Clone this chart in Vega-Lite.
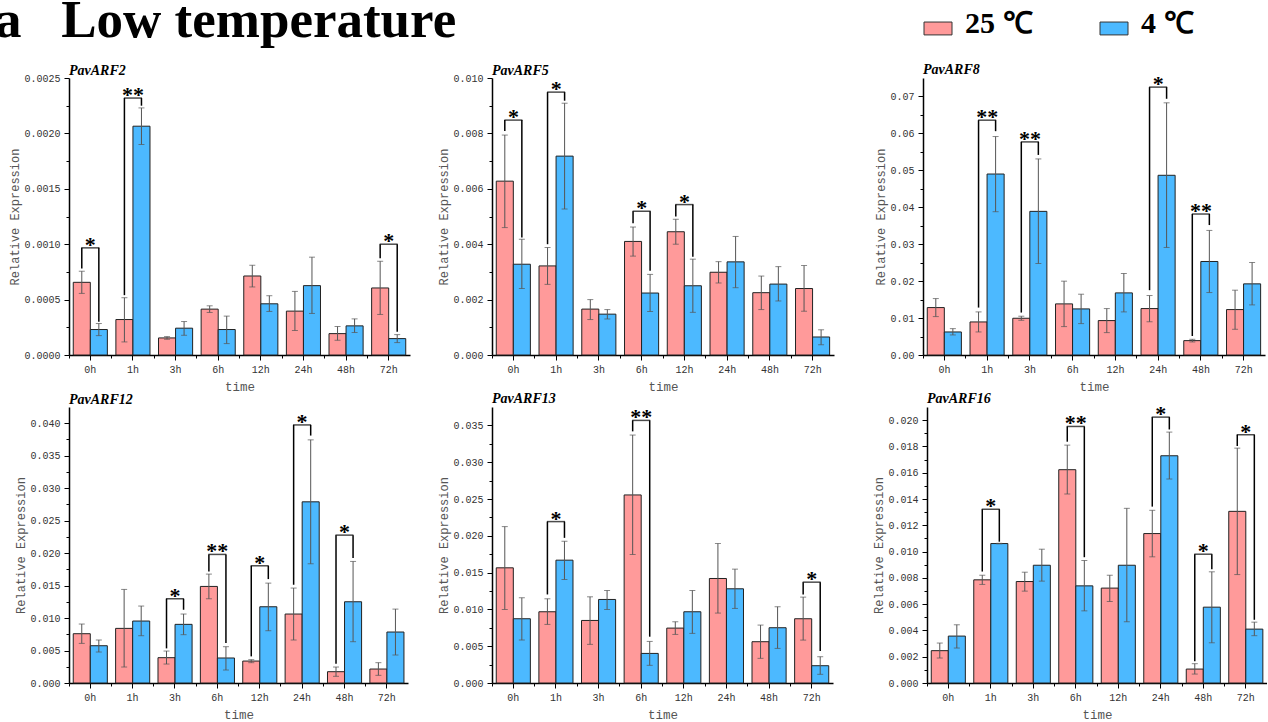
{
"$schema":"https://vega.github.io/schema/vega-lite/v6.json",
"padding":{"left":-6,"top":-5,"right":0,"bottom":0},
"title":{"text":"a\u00a0\u00a0\u00a0Low temperature","anchor":"start","frame":"bounds","font":"Liberation Serif","fontSize":53,"fontWeight":"bold","color":"#000","offset":-39,"dx":-14},
"config":{"view":{"stroke":null},
"axis":{"grid":false,"domainColor":"#000","domainWidth":1.5,"tickColor":"#000","tickWidth":1,"tickSize":5,"labelFont":"Liberation Mono","labelFontSize":10,"labelColor":"#333","titleFont":"Liberation Mono","titleFontSize":12,"titleFontWeight":"normal","titleColor":"#555"},
"axisX":{"labelAngle":0,"labelPadding":4,"titlePadding":6,"titleFontSize":12.5},
"axisY":{"labelPadding":4,"titlePadding":2}},
"datasets":{
"bars":[
{"gene":"PavARF2","time":"0h","temp":"25 ℃","mean":0.000656,"lo":0.000556,"hi":0.000756},
{"gene":"PavARF2","time":"0h","temp":"4 ℃","mean":0.00023,"lo":0.000175,"hi":0.000284},
{"gene":"PavARF2","time":"1h","temp":"25 ℃","mean":0.00032,"lo":0.000118,"hi":0.000517},
{"gene":"PavARF2","time":"1h","temp":"4 ℃","mean":0.002065,"lo":0.0019,"hi":0.00223},
{"gene":"PavARF2","time":"3h","temp":"25 ℃","mean":0.000154,"lo":0.000142,"hi":0.000166},
{"gene":"PavARF2","time":"3h","temp":"4 ℃","mean":0.000242,"lo":0.000178,"hi":0.000302},
{"gene":"PavARF2","time":"6h","temp":"25 ℃","mean":0.000414,"lo":0.000384,"hi":0.000444},
{"gene":"PavARF2","time":"6h","temp":"4 ℃","mean":0.00023,"lo":0.000103,"hi":0.000351},
{"gene":"PavARF2","time":"12h","temp":"25 ℃","mean":0.000713,"lo":0.000614,"hi":0.00081},
{"gene":"PavARF2","time":"12h","temp":"4 ℃","mean":0.000462,"lo":0.000393,"hi":0.000535},
{"gene":"PavARF2","time":"24h","temp":"25 ℃","mean":0.000396,"lo":0.000221,"hi":0.000574},
{"gene":"PavARF2","time":"24h","temp":"4 ℃","mean":0.000626,"lo":0.000375,"hi":0.000883},
{"gene":"PavARF2","time":"48h","temp":"25 ℃","mean":0.000193,"lo":0.000133,"hi":0.000257},
{"gene":"PavARF2","time":"48h","temp":"4 ℃","mean":0.000263,"lo":0.000203,"hi":0.000326},
{"gene":"PavARF2","time":"72h","temp":"25 ℃","mean":0.000605,"lo":0.000366,"hi":0.000846},
{"gene":"PavARF2","time":"72h","temp":"4 ℃","mean":0.000148,"lo":0.000112,"hi":0.000184},
{"gene":"PavARF5","time":"0h","temp":"25 ℃","mean":0.006276,"lo":0.0046,"hi":0.00794},
{"gene":"PavARF5","time":"0h","temp":"4 ℃","mean":0.003277,"lo":0.0024,"hi":0.00418},
{"gene":"PavARF5","time":"1h","temp":"25 ℃","mean":0.003216,"lo":0.00255,"hi":0.00388},
{"gene":"PavARF5","time":"1h","temp":"4 ℃","mean":0.00718,"lo":0.00527,"hi":0.00909},
{"gene":"PavARF5","time":"3h","temp":"25 ℃","mean":0.001657,"lo":0.00128,"hi":0.002},
{"gene":"PavARF5","time":"3h","temp":"4 ℃","mean":0.001475,"lo":0.0013,"hi":0.00164},
{"gene":"PavARF5","time":"6h","temp":"25 ℃","mean":0.0041,"lo":0.00357,"hi":0.00462},
{"gene":"PavARF5","time":"6h","temp":"4 ℃","mean":0.002237,"lo":0.00157,"hi":0.00291},
{"gene":"PavARF5","time":"12h","temp":"25 ℃","mean":0.00445,"lo":0.004,"hi":0.0049},
{"gene":"PavARF5","time":"12h","temp":"4 ℃","mean":0.0025,"lo":0.00154,"hi":0.00346},
{"gene":"PavARF5","time":"24h","temp":"25 ℃","mean":0.002987,"lo":0.0026,"hi":0.00337},
{"gene":"PavARF5","time":"24h","temp":"4 ℃","mean":0.003362,"lo":0.00243,"hi":0.00428},
{"gene":"PavARF5","time":"48h","temp":"25 ℃","mean":0.00225,"lo":0.00164,"hi":0.00285},
{"gene":"PavARF5","time":"48h","temp":"4 ℃","mean":0.00256,"lo":0.00195,"hi":0.00319},
{"gene":"PavARF5","time":"72h","temp":"25 ℃","mean":0.0024,"lo":0.00158,"hi":0.00323},
{"gene":"PavARF5","time":"72h","temp":"4 ℃","mean":0.00065,"lo":0.00037,"hi":0.00091},
{"gene":"PavARF8","time":"0h","temp":"25 ℃","mean":0.01284,"lo":0.0104,"hi":0.01528},
{"gene":"PavARF8","time":"0h","temp":"4 ℃","mean":0.00624,"lo":0.00543,"hi":0.00714},
{"gene":"PavARF8","time":"1h","temp":"25 ℃","mean":0.00895,"lo":0.00624,"hi":0.01167},
{"gene":"PavARF8","time":"1h","temp":"4 ℃","mean":0.049,"lo":0.0388,"hi":0.05915},
{"gene":"PavARF8","time":"3h","temp":"25 ℃","mean":0.00995,"lo":0.0094,"hi":0.0105},
{"gene":"PavARF8","time":"3h","temp":"4 ℃","mean":0.03889,"lo":0.02478,"hi":0.05309},
{"gene":"PavARF8","time":"6h","temp":"25 ℃","mean":0.01384,"lo":0.00769,"hi":0.01999},
{"gene":"PavARF8","time":"6h","temp":"4 ℃","mean":0.01248,"lo":0.0085,"hi":0.01646},
{"gene":"PavARF8","time":"12h","temp":"25 ℃","mean":0.00932,"lo":0.00606,"hi":0.01257},
{"gene":"PavARF8","time":"12h","temp":"4 ℃","mean":0.01682,"lo":0.01167,"hi":0.02207},
{"gene":"PavARF8","time":"24h","temp":"25 ℃","mean":0.01257,"lo":0.009,"hi":0.0161},
{"gene":"PavARF8","time":"24h","temp":"4 ℃","mean":0.04866,"lo":0.02912,"hi":0.06828},
{"gene":"PavARF8","time":"48h","temp":"25 ℃","mean":0.00389,"lo":0.00353,"hi":0.00425},
{"gene":"PavARF8","time":"48h","temp":"4 ℃","mean":0.02532,"lo":0.01691,"hi":0.03373},
{"gene":"PavARF8","time":"72h","temp":"25 ℃","mean":0.0123,"lo":0.00696,"hi":0.01755},
{"gene":"PavARF8","time":"72h","temp":"4 ℃","mean":0.01926,"lo":0.01357,"hi":0.02505},
{"gene":"PavARF12","time":"0h","temp":"25 ℃","mean":0.00759,"lo":0.0061,"hi":0.00908},
{"gene":"PavARF12","time":"0h","temp":"4 ℃","mean":0.00574,"lo":0.00477,"hi":0.00662},
{"gene":"PavARF12","time":"1h","temp":"25 ℃","mean":0.00841,"lo":0.00246,"hi":0.01441},
{"gene":"PavARF12","time":"1h","temp":"4 ℃","mean":0.00954,"lo":0.00728,"hi":0.01185},
{"gene":"PavARF12","time":"3h","temp":"25 ℃","mean":0.0039,"lo":0.00292,"hi":0.00492},
{"gene":"PavARF12","time":"3h","temp":"4 ℃","mean":0.00903,"lo":0.00744,"hi":0.01062},
{"gene":"PavARF12","time":"6h","temp":"25 ℃","mean":0.01487,"lo":0.01297,"hi":0.01677},
{"gene":"PavARF12","time":"6h","temp":"4 ℃","mean":0.00385,"lo":0.002,"hi":0.00559},
{"gene":"PavARF12","time":"12h","temp":"25 ℃","mean":0.00338,"lo":0.00313,"hi":0.00359},
{"gene":"PavARF12","time":"12h","temp":"4 ℃","mean":0.01174,"lo":0.00805,"hi":0.01538},
{"gene":"PavARF12","time":"24h","temp":"25 ℃","mean":0.01062,"lo":0.00662,"hi":0.01462},
{"gene":"PavARF12","time":"24h","temp":"4 ℃","mean":0.0279,"lo":0.01836,"hi":0.03744},
{"gene":"PavARF12","time":"48h","temp":"25 ℃","mean":0.00174,"lo":0.00103,"hi":0.00246},
{"gene":"PavARF12","time":"48h","temp":"4 ℃","mean":0.01251,"lo":0.00636,"hi":0.01872},
{"gene":"PavARF12","time":"72h","temp":"25 ℃","mean":0.00215,"lo":0.00118,"hi":0.00313},
{"gene":"PavARF12","time":"72h","temp":"4 ℃","mean":0.00785,"lo":0.00431,"hi":0.01138},
{"gene":"PavARF13","time":"0h","temp":"25 ℃","mean":0.01565,"lo":0.00999,"hi":0.02125},
{"gene":"PavARF13","time":"0h","temp":"4 ℃","mean":0.00873,"lo":0.00583,"hi":0.01158},
{"gene":"PavARF13","time":"1h","temp":"25 ℃","mean":0.00968,"lo":0.00796,"hi":0.01144},
{"gene":"PavARF13","time":"1h","temp":"4 ℃","mean":0.01669,"lo":0.01406,"hi":0.01926},
{"gene":"PavARF13","time":"3h","temp":"25 ℃","mean":0.0085,"lo":0.00525,"hi":0.01171},
{"gene":"PavARF13","time":"3h","temp":"4 ℃","mean":0.01135,"lo":0.00999,"hi":0.01257},
{"gene":"PavARF13","time":"6h","temp":"25 ℃","mean":0.02555,"lo":0.01746,"hi":0.03369},
{"gene":"PavARF13","time":"6h","temp":"4 ℃","mean":0.00402,"lo":0.0024,"hi":0.00565},
{"gene":"PavARF13","time":"12h","temp":"25 ℃","mean":0.00746,"lo":0.0066,"hi":0.00832},
{"gene":"PavARF13","time":"12h","temp":"4 ℃","mean":0.00968,"lo":0.00674,"hi":0.01257},
{"gene":"PavARF13","time":"24h","temp":"25 ℃","mean":0.0142,"lo":0.0095,"hi":0.01895},
{"gene":"PavARF13","time":"24h","temp":"4 ℃","mean":0.0128,"lo":0.01013,"hi":0.01547},
{"gene":"PavARF13","time":"48h","temp":"25 ℃","mean":0.00561,"lo":0.00335,"hi":0.00787},
{"gene":"PavARF13","time":"48h","temp":"4 ℃","mean":0.00751,"lo":0.0047,"hi":0.01036},
{"gene":"PavARF13","time":"72h","temp":"25 ℃","mean":0.00873,"lo":0.00583,"hi":0.01167},
{"gene":"PavARF13","time":"72h","temp":"4 ℃","mean":0.00235,"lo":0.00118,"hi":0.00357},
{"gene":"PavARF16","time":"0h","temp":"25 ℃","mean":0.00246,"lo":0.0019,"hi":0.00304},
{"gene":"PavARF16","time":"0h","temp":"4 ℃","mean":0.00357,"lo":0.00266,"hi":0.00443},
{"gene":"PavARF16","time":"1h","temp":"25 ℃","mean":0.00785,"lo":0.0075,"hi":0.0082},
{"gene":"PavARF16","time":"1h","temp":"4 ℃","mean":0.01061,"lo":0.01059,"hi":0.01063},
{"gene":"PavARF16","time":"3h","temp":"25 ℃","mean":0.00772,"lo":0.00699,"hi":0.00843},
{"gene":"PavARF16","time":"3h","temp":"4 ℃","mean":0.00896,"lo":0.00775,"hi":0.01018},
{"gene":"PavARF16","time":"6h","temp":"25 ℃","mean":0.01623,"lo":0.01438,"hi":0.0181},
{"gene":"PavARF16","time":"6h","temp":"4 ℃","mean":0.00739,"lo":0.00549,"hi":0.00932},
{"gene":"PavARF16","time":"12h","temp":"25 ℃","mean":0.00722,"lo":0.0062,"hi":0.0082},
{"gene":"PavARF16","time":"12h","temp":"4 ℃","mean":0.00896,"lo":0.00466,"hi":0.01329},
{"gene":"PavARF16","time":"24h","temp":"25 ℃","mean":0.01137,"lo":0.0096,"hi":0.01314},
{"gene":"PavARF16","time":"24h","temp":"4 ℃","mean":0.01729,"lo":0.01552,"hi":0.01909},
{"gene":"PavARF16","time":"48h","temp":"25 ℃","mean":0.00106,"lo":0.00068,"hi":0.00147},
{"gene":"PavARF16","time":"48h","temp":"4 ℃","mean":0.00577,"lo":0.00306,"hi":0.00846},
{"gene":"PavARF16","time":"72h","temp":"25 ℃","mean":0.01306,"lo":0.00825,"hi":0.01787},
{"gene":"PavARF16","time":"72h","temp":"4 ℃","mean":0.0041,"lo":0.0036,"hi":0.00463}
],
"brackets":[
{"gene":"PavARF2","time":"0h","top":0.000967,"left":0.00078,"right":0.0003,"label":"*"},
{"gene":"PavARF2","time":"1h","top":0.002319,"left":0.00054,"right":0.00225,"label":"**"},
{"gene":"PavARF2","time":"72h","top":0.001,"left":0.000874,"right":0.000209,"label":"*"},
{"gene":"PavARF5","time":"0h","top":0.00848,"left":0.00809,"right":0.00424,"label":"*"},
{"gene":"PavARF5","time":"1h","top":0.00949,"left":0.004,"right":0.00918,"label":"*"},
{"gene":"PavARF5","time":"6h","top":0.00519,"left":0.00476,"right":0.00304,"label":"*"},
{"gene":"PavARF5","time":"12h","top":0.00543,"left":0.005,"right":0.00355,"label":"*"},
{"gene":"PavARF8","time":"1h","top":0.06358,"left":0.01284,"right":0.0606,"label":"**"},
{"gene":"PavARF8","time":"3h","top":0.0577,"left":0.01149,"right":0.05417,"label":"**"},
{"gene":"PavARF8","time":"24h","top":0.07253,"left":0.01755,"right":0.06937,"label":"*"},
{"gene":"PavARF8","time":"48h","top":0.03817,"left":0.00515,"right":0.03518,"label":"**"},
{"gene":"PavARF12","time":"3h","top":0.01297,"left":0.00533,"right":0.01128,"label":"*"},
{"gene":"PavARF12","time":"6h","top":0.0198,"left":0.01718,"right":0.00615,"label":"**"},
{"gene":"PavARF12","time":"12h","top":0.01805,"left":0.0041,"right":0.016,"label":"*"},
{"gene":"PavARF12","time":"24h","top":0.03974,"left":0.01513,"right":0.0381,"label":"*"},
{"gene":"PavARF12","time":"48h","top":0.02277,"left":0.00297,"right":0.01923,"label":"*"},
{"gene":"PavARF13","time":"1h","top":0.02193,"left":0.01203,"right":0.01972,"label":"*"},
{"gene":"PavARF13","time":"6h","top":0.03568,"left":0.03419,"right":0.00629,"label":"**"},
{"gene":"PavARF13","time":"72h","top":0.0137,"left":0.01203,"right":0.00434,"label":"*"},
{"gene":"PavARF16","time":"1h","top":0.01322,"left":0.00848,"right":0.01075,"label":"*"},
{"gene":"PavARF16","time":"6h","top":0.01952,"left":0.01836,"right":0.00957,"label":"**"},
{"gene":"PavARF16","time":"24h","top":0.02023,"left":0.01342,"right":0.01929,"label":"*"},
{"gene":"PavARF16","time":"48h","top":0.0098,"left":0.00165,"right":0.00866,"label":"*"},
{"gene":"PavARF16","time":"72h","top":0.01889,"left":0.01803,"right":0.00481,"label":"*"}
]},
"spacing":-2,
"vconcat":[
{"bounds":"flush","spacing":82,"hconcat":[
{"width":341,"height":277,
"title":{"text":"PavARF2","anchor":"start","frame":"group","font":"Liberation Serif","fontSize":14,"fontStyle":"italic","fontWeight":"bold","color":"#000","offset":-4.5},
"data":{"name":"bars"},"transform":[{"filter":"datum.gene === 'PavARF2'"}],
"encoding":{"x":{"field":"time","type":"nominal","sort":["0h","1h","3h","6h","12h","24h","48h","72h"],"scale":{"paddingInner":0.2,"paddingOuter":0.1},"axis":null}},
"layer":[
{"mark":{"type":"bar","stroke":"#222","strokeWidth":1},"encoding":{
"x":{"field":"time","type":"nominal","sort":["0h","1h","3h","6h","12h","24h","48h","72h"],"title":"time","axis":{"orient":"bottom"}},
"xOffset":{"field":"temp","type":"nominal","scale":{"domain":["25 ℃","4 ℃"]}},
"y":{"field":"mean","type":"quantitative","scale":{"domain":[0,0.0025],"nice":false},"title":"Relative Expression","axis":{"orient":"left","values":[0,0.0005,0.001,0.0015,0.002,0.0025],"format":".4f"}},
"color":{"field":"temp","type":"nominal","scale":{"domain":["25 ℃","4 ℃"],"range":["#FF9A9A","#4CB9FF"]},
"legend":{"title":null,"orient":"none","legendX":854,"legendY":-69,"direction":"horizontal","symbolType":"M-1,-0.14H1V0.78H-1Z","symbolSize":784,"symbolStrokeColor":"#333","symbolStrokeWidth":1,"symbolOpacity":1,"labelFont":"Liberation Serif","labelFontSize":30,"labelFontWeight":"bold","labelColor":"#000","labelOffset":12,"columnPadding":65,"padding":0}}}},
{"mark":{"type":"rule","color":"#555","strokeWidth":1},"encoding":{
"x":{"field":"time","type":"nominal","sort":["0h","1h","3h","6h","12h","24h","48h","72h"],"axis":{"orient":"bottom","labels":false,"domain":false,"title":null,"tickSize":3,"bandPosition":-0.125}},
"xOffset":{"field":"temp","type":"nominal","scale":{"domain":["25 ℃","4 ℃"]}},
"y":{"field":"lo","type":"quantitative","scale":{"domain":[0,0.0025],"nice":false},"axis":{"orient":"left","labels":false,"domain":false,"title":null,"tickSize":3,"values":[0.00025,0.00075,0.00125,0.00175,0.00225]}},
"y2":{"field":"hi"}}},
{"mark":{"type":"tick","orient":"horizontal","size":6,"thickness":1,"color":"#555"},"encoding":{
"xOffset":{"field":"temp","type":"nominal","scale":{"domain":["25 ℃","4 ℃"]}},
"y":{"field":"lo","type":"quantitative","axis":null}}},
{"mark":{"type":"tick","orient":"horizontal","size":6,"thickness":1,"color":"#555"},"encoding":{
"xOffset":{"field":"temp","type":"nominal","scale":{"domain":["25 ℃","4 ℃"]}},
"y":{"field":"hi","type":"quantitative","axis":null}}},
{"data":{"name":"brackets"},"transform":[{"filter":"datum.gene === 'PavARF2'"}],"mark":{"type":"rule","color":"#000","strokeWidth":1.5},"encoding":{
"xOffset":{"datum":"25 ℃"},"y":{"field":"left","type":"quantitative","axis":null},"y2":{"field":"top"}}},
{"data":{"name":"brackets"},"transform":[{"filter":"datum.gene === 'PavARF2'"}],"mark":{"type":"rule","color":"#000","strokeWidth":1.5},"encoding":{
"xOffset":{"datum":"4 ℃"},"y":{"field":"right","type":"quantitative","axis":null},"y2":{"field":"top"}}},
{"data":{"name":"brackets"},"transform":[{"filter":"datum.gene === 'PavARF2'"}],"mark":{"type":"tick","orient":"horizontal","size":18,"thickness":1.5,"color":"#000"},"encoding":{
"y":{"field":"top","type":"quantitative","axis":null}}},
{"data":{"name":"brackets"},"transform":[{"filter":"datum.gene === 'PavARF2'"}],"mark":{"type":"text","font":"Liberation Serif","fontSize":22,"fontWeight":"bold","color":"#000","align":"center","baseline":"alphabetic","dy":4},"encoding":{
"y":{"field":"top","type":"quantitative","axis":null},"text":{"field":"label"}}}
],
"resolve":{"axis":{"x":"independent","y":"independent"}}},
{"bounds":"flush","spacing":89,"hconcat":[
{"width":342,"height":277,
"title":{"text":"PavARF5","anchor":"start","frame":"group","font":"Liberation Serif","fontSize":14,"fontStyle":"italic","fontWeight":"bold","color":"#000","offset":-4.5},
"data":{"name":"bars"},"transform":[{"filter":"datum.gene === 'PavARF5'"}],
"encoding":{"x":{"field":"time","type":"nominal","sort":["0h","1h","3h","6h","12h","24h","48h","72h"],"scale":{"paddingInner":0.2,"paddingOuter":0.1},"axis":null}},
"layer":[
{"mark":{"type":"bar","stroke":"#222","strokeWidth":1},"encoding":{
"x":{"field":"time","type":"nominal","sort":["0h","1h","3h","6h","12h","24h","48h","72h"],"title":"time","axis":{"orient":"bottom"}},
"xOffset":{"field":"temp","type":"nominal","scale":{"domain":["25 ℃","4 ℃"]}},
"y":{"field":"mean","type":"quantitative","scale":{"domain":[0,0.01],"nice":false},"title":"Relative Expression","axis":{"orient":"left","values":[0,0.002,0.004,0.006,0.008,0.01],"format":".3f"}},
"color":{"field":"temp","type":"nominal","scale":{"domain":["25 ℃","4 ℃"],"range":["#FF9A9A","#4CB9FF"]},"legend":null}}},
{"mark":{"type":"rule","color":"#555","strokeWidth":1},"encoding":{
"x":{"field":"time","type":"nominal","sort":["0h","1h","3h","6h","12h","24h","48h","72h"],"axis":{"orient":"bottom","labels":false,"domain":false,"title":null,"tickSize":3,"bandPosition":-0.125}},
"xOffset":{"field":"temp","type":"nominal","scale":{"domain":["25 ℃","4 ℃"]}},
"y":{"field":"lo","type":"quantitative","scale":{"domain":[0,0.01],"nice":false},"axis":{"orient":"left","labels":false,"domain":false,"title":null,"tickSize":3,"values":[0.001,0.003,0.005,0.007,0.009]}},
"y2":{"field":"hi"}}},
{"mark":{"type":"tick","orient":"horizontal","size":6,"thickness":1,"color":"#555"},"encoding":{
"xOffset":{"field":"temp","type":"nominal","scale":{"domain":["25 ℃","4 ℃"]}},
"y":{"field":"lo","type":"quantitative","axis":null}}},
{"mark":{"type":"tick","orient":"horizontal","size":6,"thickness":1,"color":"#555"},"encoding":{
"xOffset":{"field":"temp","type":"nominal","scale":{"domain":["25 ℃","4 ℃"]}},
"y":{"field":"hi","type":"quantitative","axis":null}}},
{"data":{"name":"brackets"},"transform":[{"filter":"datum.gene === 'PavARF5'"}],"mark":{"type":"rule","color":"#000","strokeWidth":1.5},"encoding":{
"xOffset":{"datum":"25 ℃"},"y":{"field":"left","type":"quantitative","axis":null},"y2":{"field":"top"}}},
{"data":{"name":"brackets"},"transform":[{"filter":"datum.gene === 'PavARF5'"}],"mark":{"type":"rule","color":"#000","strokeWidth":1.5},"encoding":{
"xOffset":{"datum":"4 ℃"},"y":{"field":"right","type":"quantitative","axis":null},"y2":{"field":"top"}}},
{"data":{"name":"brackets"},"transform":[{"filter":"datum.gene === 'PavARF5'"}],"mark":{"type":"tick","orient":"horizontal","size":18,"thickness":1.5,"color":"#000"},"encoding":{
"y":{"field":"top","type":"quantitative","axis":null}}},
{"data":{"name":"brackets"},"transform":[{"filter":"datum.gene === 'PavARF5'"}],"mark":{"type":"text","font":"Liberation Serif","fontSize":22,"fontWeight":"bold","color":"#000","align":"center","baseline":"alphabetic","dy":4},"encoding":{
"y":{"field":"top","type":"quantitative","axis":null},"text":{"field":"label"}}}
],
"resolve":{"axis":{"x":"independent","y":"independent"}}},
{"width":342,"height":277,
"title":{"text":"PavARF8","anchor":"start","frame":"group","font":"Liberation Serif","fontSize":14,"fontStyle":"italic","fontWeight":"bold","color":"#000","offset":-4},
"data":{"name":"bars"},"transform":[{"filter":"datum.gene === 'PavARF8'"}],
"encoding":{"x":{"field":"time","type":"nominal","sort":["0h","1h","3h","6h","12h","24h","48h","72h"],"scale":{"paddingInner":0.2,"paddingOuter":0.1},"axis":null}},
"layer":[
{"mark":{"type":"bar","stroke":"#222","strokeWidth":1},"encoding":{
"x":{"field":"time","type":"nominal","sort":["0h","1h","3h","6h","12h","24h","48h","72h"],"title":"time","axis":{"orient":"bottom"}},
"xOffset":{"field":"temp","type":"nominal","scale":{"domain":["25 ℃","4 ℃"]}},
"y":{"field":"mean","type":"quantitative","scale":{"domain":[0,0.075],"nice":false},"title":"Relative Expression","axis":{"orient":"left","values":[0,0.01,0.02,0.03,0.04,0.05,0.06,0.07],"format":".2f"}},
"color":{"field":"temp","type":"nominal","scale":{"domain":["25 ℃","4 ℃"],"range":["#FF9A9A","#4CB9FF"]},"legend":null}}},
{"mark":{"type":"rule","color":"#555","strokeWidth":1},"encoding":{
"x":{"field":"time","type":"nominal","sort":["0h","1h","3h","6h","12h","24h","48h","72h"],"axis":{"orient":"bottom","labels":false,"domain":false,"title":null,"tickSize":3,"bandPosition":-0.125}},
"xOffset":{"field":"temp","type":"nominal","scale":{"domain":["25 ℃","4 ℃"]}},
"y":{"field":"lo","type":"quantitative","scale":{"domain":[0,0.075],"nice":false},"axis":{"orient":"left","labels":false,"domain":false,"title":null,"tickSize":3,"values":[0.005,0.015,0.025,0.035,0.045,0.055,0.065]}},
"y2":{"field":"hi"}}},
{"mark":{"type":"tick","orient":"horizontal","size":6,"thickness":1,"color":"#555"},"encoding":{
"xOffset":{"field":"temp","type":"nominal","scale":{"domain":["25 ℃","4 ℃"]}},
"y":{"field":"lo","type":"quantitative","axis":null}}},
{"mark":{"type":"tick","orient":"horizontal","size":6,"thickness":1,"color":"#555"},"encoding":{
"xOffset":{"field":"temp","type":"nominal","scale":{"domain":["25 ℃","4 ℃"]}},
"y":{"field":"hi","type":"quantitative","axis":null}}},
{"data":{"name":"brackets"},"transform":[{"filter":"datum.gene === 'PavARF8'"}],"mark":{"type":"rule","color":"#000","strokeWidth":1.5},"encoding":{
"xOffset":{"datum":"25 ℃"},"y":{"field":"left","type":"quantitative","axis":null},"y2":{"field":"top"}}},
{"data":{"name":"brackets"},"transform":[{"filter":"datum.gene === 'PavARF8'"}],"mark":{"type":"rule","color":"#000","strokeWidth":1.5},"encoding":{
"xOffset":{"datum":"4 ℃"},"y":{"field":"right","type":"quantitative","axis":null},"y2":{"field":"top"}}},
{"data":{"name":"brackets"},"transform":[{"filter":"datum.gene === 'PavARF8'"}],"mark":{"type":"tick","orient":"horizontal","size":18,"thickness":1.5,"color":"#000"},"encoding":{
"y":{"field":"top","type":"quantitative","axis":null}}},
{"data":{"name":"brackets"},"transform":[{"filter":"datum.gene === 'PavARF8'"}],"mark":{"type":"text","font":"Liberation Serif","fontSize":22,"fontWeight":"bold","color":"#000","align":"center","baseline":"alphabetic","dy":4},"encoding":{
"y":{"field":"top","type":"quantitative","axis":null},"text":{"field":"label"}}}
],
"resolve":{"axis":{"x":"independent","y":"independent"}}}
]}
]},
{"bounds":"flush","spacing":84,"hconcat":[
{"width":339,"height":276,
"title":{"text":"PavARF12","anchor":"start","frame":"group","font":"Liberation Serif","fontSize":14,"fontStyle":"italic","fontWeight":"bold","color":"#000","offset":0.5},
"data":{"name":"bars"},"transform":[{"filter":"datum.gene === 'PavARF12'"}],
"encoding":{"x":{"field":"time","type":"nominal","sort":["0h","1h","3h","6h","12h","24h","48h","72h"],"scale":{"paddingInner":0.2,"paddingOuter":0.1},"axis":null}},
"layer":[
{"mark":{"type":"bar","stroke":"#222","strokeWidth":1},"encoding":{
"x":{"field":"time","type":"nominal","sort":["0h","1h","3h","6h","12h","24h","48h","72h"],"title":"time","axis":{"orient":"bottom"}},
"xOffset":{"field":"temp","type":"nominal","scale":{"domain":["25 ℃","4 ℃"]}},
"y":{"field":"mean","type":"quantitative","scale":{"domain":[0,0.0425],"nice":false},"title":"Relative Expression","axis":{"orient":"left","minExtent":40,"values":[0,0.005,0.01,0.015,0.02,0.025,0.03,0.035,0.04],"format":".3f"}},
"color":{"field":"temp","type":"nominal","scale":{"domain":["25 ℃","4 ℃"],"range":["#FF9A9A","#4CB9FF"]},"legend":null}}},
{"mark":{"type":"rule","color":"#555","strokeWidth":1},"encoding":{
"x":{"field":"time","type":"nominal","sort":["0h","1h","3h","6h","12h","24h","48h","72h"],"axis":{"orient":"bottom","labels":false,"domain":false,"title":null,"tickSize":3,"bandPosition":-0.125}},
"xOffset":{"field":"temp","type":"nominal","scale":{"domain":["25 ℃","4 ℃"]}},
"y":{"field":"lo","type":"quantitative","scale":{"domain":[0,0.0425],"nice":false},"axis":{"orient":"left","labels":false,"domain":false,"title":null,"tickSize":3,"values":[0.0025,0.0075,0.0125,0.0175,0.0225,0.0275,0.0325,0.0375]}},
"y2":{"field":"hi"}}},
{"mark":{"type":"tick","orient":"horizontal","size":6,"thickness":1,"color":"#555"},"encoding":{
"xOffset":{"field":"temp","type":"nominal","scale":{"domain":["25 ℃","4 ℃"]}},
"y":{"field":"lo","type":"quantitative","axis":null}}},
{"mark":{"type":"tick","orient":"horizontal","size":6,"thickness":1,"color":"#555"},"encoding":{
"xOffset":{"field":"temp","type":"nominal","scale":{"domain":["25 ℃","4 ℃"]}},
"y":{"field":"hi","type":"quantitative","axis":null}}},
{"data":{"name":"brackets"},"transform":[{"filter":"datum.gene === 'PavARF12'"}],"mark":{"type":"rule","color":"#000","strokeWidth":1.5},"encoding":{
"xOffset":{"datum":"25 ℃"},"y":{"field":"left","type":"quantitative","axis":null},"y2":{"field":"top"}}},
{"data":{"name":"brackets"},"transform":[{"filter":"datum.gene === 'PavARF12'"}],"mark":{"type":"rule","color":"#000","strokeWidth":1.5},"encoding":{
"xOffset":{"datum":"4 ℃"},"y":{"field":"right","type":"quantitative","axis":null},"y2":{"field":"top"}}},
{"data":{"name":"brackets"},"transform":[{"filter":"datum.gene === 'PavARF12'"}],"mark":{"type":"tick","orient":"horizontal","size":18,"thickness":1.5,"color":"#000"},"encoding":{
"y":{"field":"top","type":"quantitative","axis":null}}},
{"data":{"name":"brackets"},"transform":[{"filter":"datum.gene === 'PavARF12'"}],"mark":{"type":"text","font":"Liberation Serif","fontSize":22,"fontWeight":"bold","color":"#000","align":"center","baseline":"alphabetic","dy":4},"encoding":{
"y":{"field":"top","type":"quantitative","axis":null},"text":{"field":"label"}}}
],
"resolve":{"axis":{"x":"independent","y":"independent"}}},
{"bounds":"flush","spacing":94,"hconcat":[
{"width":341,"height":276,
"title":{"text":"PavARF13","anchor":"start","frame":"group","font":"Liberation Serif","fontSize":14,"fontStyle":"italic","fontWeight":"bold","color":"#000","offset":0.5},
"data":{"name":"bars"},"transform":[{"filter":"datum.gene === 'PavARF13'"}],
"encoding":{"x":{"field":"time","type":"nominal","sort":["0h","1h","3h","6h","12h","24h","48h","72h"],"scale":{"paddingInner":0.2,"paddingOuter":0.1},"axis":null}},
"layer":[
{"mark":{"type":"bar","stroke":"#222","strokeWidth":1},"encoding":{
"x":{"field":"time","type":"nominal","sort":["0h","1h","3h","6h","12h","24h","48h","72h"],"title":"time","axis":{"orient":"bottom"}},
"xOffset":{"field":"temp","type":"nominal","scale":{"domain":["25 ℃","4 ℃"]}},
"y":{"field":"mean","type":"quantitative","scale":{"domain":[0,0.0375],"nice":false},"title":"Relative Expression","axis":{"orient":"left","values":[0,0.005,0.01,0.015,0.02,0.025,0.03,0.035],"format":".3f"}},
"color":{"field":"temp","type":"nominal","scale":{"domain":["25 ℃","4 ℃"],"range":["#FF9A9A","#4CB9FF"]},"legend":null}}},
{"mark":{"type":"rule","color":"#555","strokeWidth":1},"encoding":{
"x":{"field":"time","type":"nominal","sort":["0h","1h","3h","6h","12h","24h","48h","72h"],"axis":{"orient":"bottom","labels":false,"domain":false,"title":null,"tickSize":3,"bandPosition":-0.125}},
"xOffset":{"field":"temp","type":"nominal","scale":{"domain":["25 ℃","4 ℃"]}},
"y":{"field":"lo","type":"quantitative","scale":{"domain":[0,0.0375],"nice":false},"axis":{"orient":"left","labels":false,"domain":false,"title":null,"tickSize":3,"values":[0.0025,0.0075,0.0125,0.0175,0.0225,0.0275,0.0325]}},
"y2":{"field":"hi"}}},
{"mark":{"type":"tick","orient":"horizontal","size":6,"thickness":1,"color":"#555"},"encoding":{
"xOffset":{"field":"temp","type":"nominal","scale":{"domain":["25 ℃","4 ℃"]}},
"y":{"field":"lo","type":"quantitative","axis":null}}},
{"mark":{"type":"tick","orient":"horizontal","size":6,"thickness":1,"color":"#555"},"encoding":{
"xOffset":{"field":"temp","type":"nominal","scale":{"domain":["25 ℃","4 ℃"]}},
"y":{"field":"hi","type":"quantitative","axis":null}}},
{"data":{"name":"brackets"},"transform":[{"filter":"datum.gene === 'PavARF13'"}],"mark":{"type":"rule","color":"#000","strokeWidth":1.5},"encoding":{
"xOffset":{"datum":"25 ℃"},"y":{"field":"left","type":"quantitative","axis":null},"y2":{"field":"top"}}},
{"data":{"name":"brackets"},"transform":[{"filter":"datum.gene === 'PavARF13'"}],"mark":{"type":"rule","color":"#000","strokeWidth":1.5},"encoding":{
"xOffset":{"datum":"4 ℃"},"y":{"field":"right","type":"quantitative","axis":null},"y2":{"field":"top"}}},
{"data":{"name":"brackets"},"transform":[{"filter":"datum.gene === 'PavARF13'"}],"mark":{"type":"tick","orient":"horizontal","size":18,"thickness":1.5,"color":"#000"},"encoding":{
"y":{"field":"top","type":"quantitative","axis":null}}},
{"data":{"name":"brackets"},"transform":[{"filter":"datum.gene === 'PavARF13'"}],"mark":{"type":"text","font":"Liberation Serif","fontSize":22,"fontWeight":"bold","color":"#000","align":"center","baseline":"alphabetic","dy":4},"encoding":{
"y":{"field":"top","type":"quantitative","axis":null},"text":{"field":"label"}}}
],
"resolve":{"axis":{"x":"independent","y":"independent"}}},
{"width":340,"height":276,
"title":{"text":"PavARF16","anchor":"start","frame":"group","font":"Liberation Serif","fontSize":14,"fontStyle":"italic","fontWeight":"bold","color":"#000","offset":-3},
"data":{"name":"bars"},"transform":[{"filter":"datum.gene === 'PavARF16'"}],
"encoding":{"x":{"field":"time","type":"nominal","sort":["0h","1h","3h","6h","12h","24h","48h","72h"],"scale":{"paddingInner":0.2,"paddingOuter":0.1},"axis":null}},
"layer":[
{"mark":{"type":"bar","stroke":"#222","strokeWidth":1},"encoding":{
"x":{"field":"time","type":"nominal","sort":["0h","1h","3h","6h","12h","24h","48h","72h"],"title":"time","axis":{"orient":"bottom"}},
"xOffset":{"field":"temp","type":"nominal","scale":{"domain":["25 ℃","4 ℃"]}},
"y":{"field":"mean","type":"quantitative","scale":{"domain":[0,0.021],"nice":false},"title":"Relative Expression","axis":{"orient":"left","values":[0,0.002,0.004,0.006,0.008,0.01,0.012,0.014,0.016,0.018,0.02],"format":".3f"}},
"color":{"field":"temp","type":"nominal","scale":{"domain":["25 ℃","4 ℃"],"range":["#FF9A9A","#4CB9FF"]},"legend":null}}},
{"mark":{"type":"rule","color":"#555","strokeWidth":1},"encoding":{
"x":{"field":"time","type":"nominal","sort":["0h","1h","3h","6h","12h","24h","48h","72h"],"axis":{"orient":"bottom","labels":false,"domain":false,"title":null,"tickSize":3,"bandPosition":-0.125}},
"xOffset":{"field":"temp","type":"nominal","scale":{"domain":["25 ℃","4 ℃"]}},
"y":{"field":"lo","type":"quantitative","scale":{"domain":[0,0.021],"nice":false},"axis":{"orient":"left","labels":false,"domain":false,"title":null,"tickSize":3,"values":[0.001,0.003,0.005,0.007,0.009,0.011,0.013,0.015,0.017,0.019]}},
"y2":{"field":"hi"}}},
{"mark":{"type":"tick","orient":"horizontal","size":6,"thickness":1,"color":"#555"},"encoding":{
"xOffset":{"field":"temp","type":"nominal","scale":{"domain":["25 ℃","4 ℃"]}},
"y":{"field":"lo","type":"quantitative","axis":null}}},
{"mark":{"type":"tick","orient":"horizontal","size":6,"thickness":1,"color":"#555"},"encoding":{
"xOffset":{"field":"temp","type":"nominal","scale":{"domain":["25 ℃","4 ℃"]}},
"y":{"field":"hi","type":"quantitative","axis":null}}},
{"data":{"name":"brackets"},"transform":[{"filter":"datum.gene === 'PavARF16'"}],"mark":{"type":"rule","color":"#000","strokeWidth":1.5},"encoding":{
"xOffset":{"datum":"25 ℃"},"y":{"field":"left","type":"quantitative","axis":null},"y2":{"field":"top"}}},
{"data":{"name":"brackets"},"transform":[{"filter":"datum.gene === 'PavARF16'"}],"mark":{"type":"rule","color":"#000","strokeWidth":1.5},"encoding":{
"xOffset":{"datum":"4 ℃"},"y":{"field":"right","type":"quantitative","axis":null},"y2":{"field":"top"}}},
{"data":{"name":"brackets"},"transform":[{"filter":"datum.gene === 'PavARF16'"}],"mark":{"type":"tick","orient":"horizontal","size":18,"thickness":1.5,"color":"#000"},"encoding":{
"y":{"field":"top","type":"quantitative","axis":null}}},
{"data":{"name":"brackets"},"transform":[{"filter":"datum.gene === 'PavARF16'"}],"mark":{"type":"text","font":"Liberation Serif","fontSize":22,"fontWeight":"bold","color":"#000","align":"center","baseline":"alphabetic","dy":4},"encoding":{
"y":{"field":"top","type":"quantitative","axis":null},"text":{"field":"label"}}}
],
"resolve":{"axis":{"x":"independent","y":"independent"}}}
]}
]}
]
}
